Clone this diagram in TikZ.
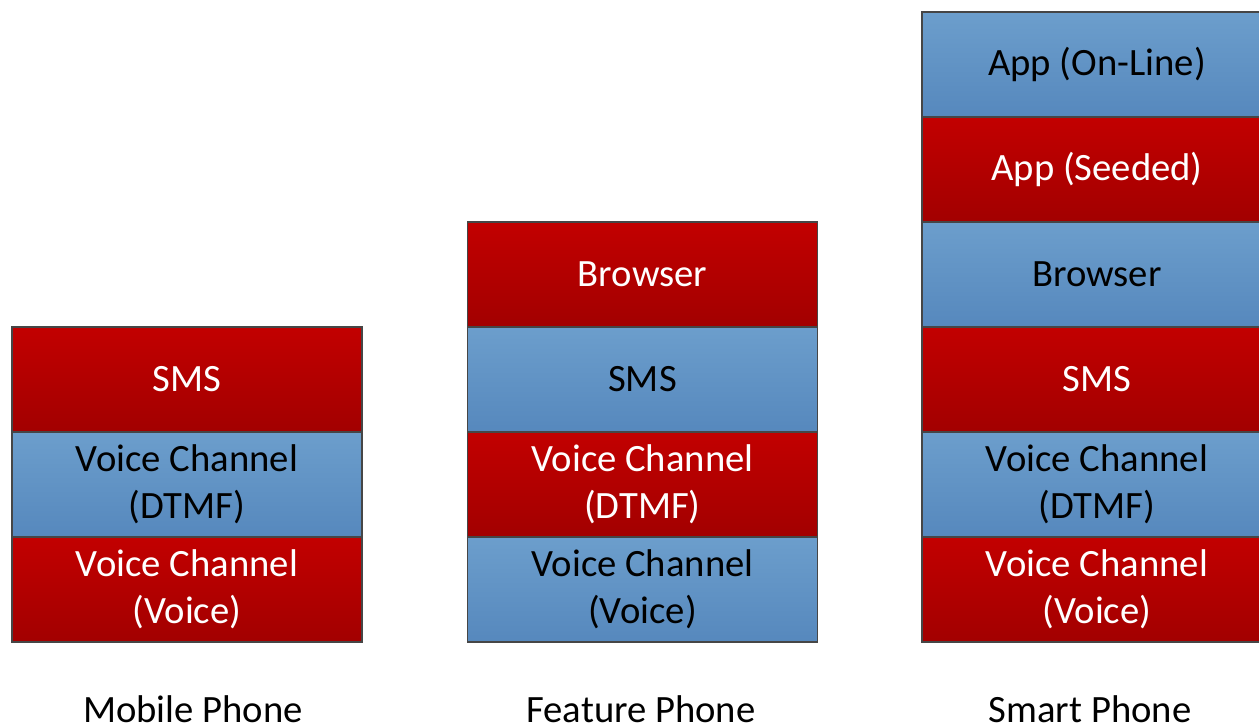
\documentclass[tikz,border=0pt]{standalone}
\usepackage{fontspec}
\setmainfont{Carlito}
\usetikzlibrary{positioning}
\definecolor{redtop}{RGB}{194,0,0}
\definecolor{redbot}{RGB}{162,0,0}
\definecolor{bluetop}{RGB}{108,158,204}
\definecolor{bluebot}{RGB}{86,136,189}
\definecolor{edgegray}{RGB}{70,70,70}

\begin{document}
\begin{tikzpicture}[
  layer/.style={rectangle, draw=edgegray, line width=0.6pt, outer sep=0pt, minimum width=7cm, minimum height=2.1cm, inner sep=0pt, align=center, font=\fontsize{22}{26.5}\selectfont},
  redlayer/.style={layer, top color=redtop, bottom color=redbot, text=white},
  bluelayer/.style={layer, top color=bluetop, bottom color=bluebot, text=black},
  caption/.style={anchor=base, font=\fontsize{22}{26.5}\selectfont}
]
\useasboundingbox (0,0) rectangle (25.18,14.5);
\clip (0,0) rectangle (25.18,14.5);

% Mobile Phone
\node[redlayer, anchor=south] (mvoice) at (3.74,1.66) {Voice Channel\\(Voice)};
\node[bluelayer, above=0pt of mvoice] (mdtmf) {Voice Channel\\(DTMF)};
\node[redlayer, above=0pt of mdtmf] (msms) {SMS};
\node[caption] (mcap) at (3.86,0.04) {Mobile Phone};

% Feature Phone
\node[bluelayer, anchor=south] (fvoice) at (12.85,1.66) {Voice Channel\\(Voice)};
\node[redlayer, above=0pt of fvoice] (fdtmf) {Voice Channel\\(DTMF)};
\node[bluelayer, above=0pt of fdtmf] (fsms) {SMS};
\node[redlayer, above=0pt of fsms] (fbrowser) {Browser};
\node[caption] (fcap) at (12.82,0.04) {Feature Phone};

% Smart Phone
\node[redlayer, anchor=south] (svoice) at (21.94,1.66) {Voice Channel\\(Voice)};
\node[bluelayer, above=0pt of svoice] (sdtmf) {Voice Channel\\(DTMF)};
\node[redlayer, above=0pt of sdtmf] (ssms) {SMS};
\node[bluelayer, above=0pt of ssms] (sbrowser) {Browser};
\node[redlayer, above=0pt of sbrowser] (sseeded) {App (Seeded)};
\node[bluelayer, above=0pt of sseeded] (sonline) {App (On-Line)};
\node[caption] (scap) at (21.80,0.04) {Smart Phone};
\end{tikzpicture}
\end{document}
